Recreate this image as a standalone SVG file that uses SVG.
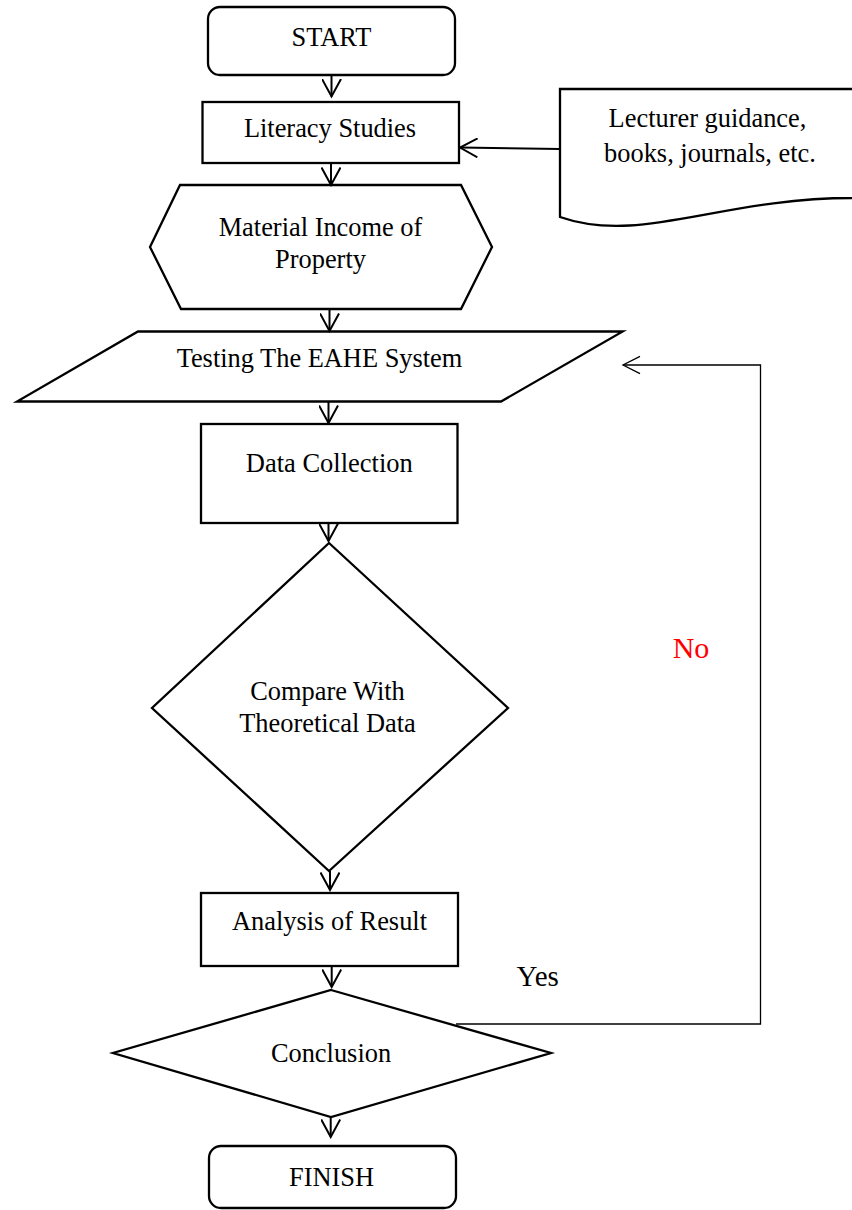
<svg xmlns="http://www.w3.org/2000/svg" width="852" height="1210" viewBox="0 0 852 1210">
<style>
.shape{fill:#fff;stroke:#000;stroke-width:2.3;stroke-linejoin:miter}
.lbl{font-family:"Liberation Serif","Times New Roman",serif;font-size:26.4px;fill:#000;text-anchor:middle}
.flow{fill:none;stroke:#000;stroke-width:2}
.back{fill:none;stroke:#000;stroke-width:1.3}
</style>
<defs>
<marker id="arr" markerUnits="userSpaceOnUse" viewBox="0 0 20 20" refX="18" refY="10" markerWidth="20" markerHeight="20" orient="auto">
<path d="M0.5,0.5 L18,10 L0.5,19.5" fill="none" stroke="#000" stroke-width="2"/>
</marker>
<marker id="arrThin" markerUnits="userSpaceOnUse" viewBox="0 0 20 20" refX="18" refY="10" markerWidth="20" markerHeight="20" orient="auto">
<path d="M1,1.3 L18,10 L1,18.7" fill="none" stroke="#000" stroke-width="1.3"/>
</marker>
</defs>
<rect width="852" height="1210" fill="#fff"/>

<g id="start">
<rect class="shape" x="208" y="7" width="247" height="68" rx="12"/>
<text class="lbl" x="331.5" y="46">START</text>
</g>
<g id="literacy">
<rect class="shape" x="202.5" y="102" width="256.5" height="61"/>
<text class="lbl" x="330" y="137">Literacy Studies</text>
</g>
<g id="sources">
<path class="shape" d="M560,89 H880 V196 L852,198 C720,198 640,245 560,217 Z"/>
<text class="lbl" x="707.5" y="126.7">Lecturer guidance,</text>
<text class="lbl" x="710" y="161.7">books, journals, etc.</text>
</g>
<g id="material">
<polygon class="shape" points="180,185 461,185 492,247 461,309 181,309 150,247"/>
<text class="lbl" x="320.5" y="236">Material Income of</text>
<text class="lbl" x="320.5" y="268">Property</text>
</g>
<g id="testing">
<polygon class="shape" points="138,331.5 622.7,331.5 501,401.5 17,401.5"/>
<text class="lbl" x="319.5" y="366.7">Testing The EAHE System</text>
</g>
<g id="data">
<rect class="shape" x="201" y="424" width="256.5" height="99"/>
<text class="lbl" x="329.3" y="472" textLength="167" lengthAdjust="spacingAndGlyphs">Data Collection</text>
</g>
<g id="compare">
<polygon class="shape" points="329,543 508,708 329,871 152,708"/>
<text class="lbl" x="327.5" y="700">Compare With</text>
<text class="lbl" x="327.5" y="732">Theoretical Data</text>
</g>
<g id="analysis">
<rect class="shape" x="201" y="893" width="257" height="73"/>
<text class="lbl" x="329.5" y="930">Analysis of Result</text>
</g>
<g id="conclusion">
<polygon class="shape" points="331,990 551,1053 331,1117 113,1053"/>
<text class="lbl" x="331" y="1062">Conclusion</text>
</g>
<g id="finish">
<rect class="shape" x="209" y="1146" width="247" height="62" rx="12"/>
<text class="lbl" x="331.5" y="1185.7">FINISH</text>
</g>

<g id="connectors">
<line class="flow" x1="331.5" y1="75" x2="331.5" y2="96.5" marker-end="url(#arr)"/>
<line class="flow" x1="331" y1="163" x2="331" y2="185" marker-end="url(#arr)"/>
<line class="flow" x1="560" y1="149" x2="460" y2="147.5" marker-end="url(#arr)"/>
<line class="flow" x1="329.5" y1="309" x2="329.5" y2="331" marker-end="url(#arr)"/>
<line class="flow" x1="328.5" y1="401.5" x2="328.5" y2="423" marker-end="url(#arr)"/>
<line class="flow" x1="328.5" y1="523" x2="328.5" y2="541" marker-end="url(#arr)"/>
<line class="flow" x1="330" y1="871" x2="330" y2="890" marker-end="url(#arr)"/>
<line class="flow" x1="331.7" y1="966" x2="331.7" y2="987" marker-end="url(#arr)"/>
<line class="flow" x1="330.7" y1="1117" x2="330.7" y2="1137" marker-end="url(#arr)"/>
<polyline class="back" points="456,1024 760.5,1024 760.5,365 623,365" marker-end="url(#arrThin)"/>
<text x="537.7" y="986" text-anchor="middle" font-family="'Liberation Serif','Times New Roman',serif" font-size="29" fill="#000">Yes</text>
<text x="691" y="658" text-anchor="middle" font-family="'Liberation Serif','Times New Roman',serif" font-size="30" fill="#ff0000">No</text>
</g>
</svg>
